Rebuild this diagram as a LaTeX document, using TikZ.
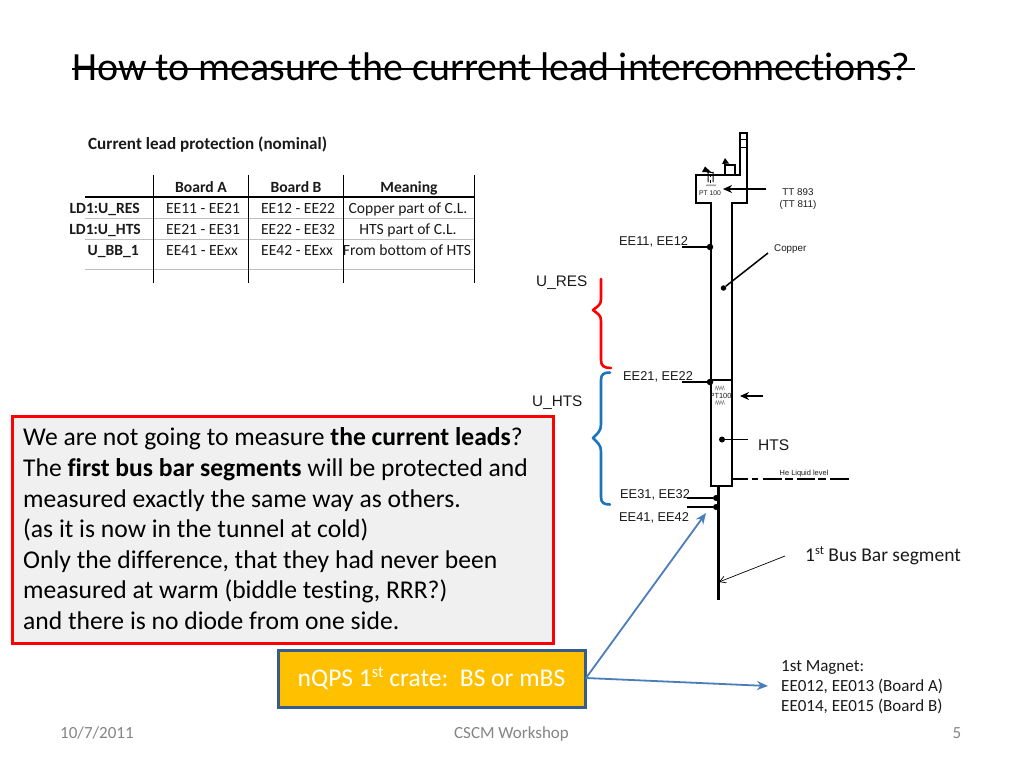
\documentclass[tikz,border=0pt]{standalone}
\usepackage{fontspec}
\setmainfont[RawFeature={-liga;-clig}]{Carlito}
\newfontfamily\arialf{Liberation Sans}
\usetikzlibrary{arrows.meta}
\definecolor{ftgray}{HTML}{858585}
\definecolor{txt}{HTML}{1A1A1A}
\definecolor{bluearrow}{HTML}{4A7EBB}
\definecolor{boxedge}{HTML}{385D8A}
\definecolor{bluebrace}{HTML}{1B75BC}
\definecolor{boxorange}{HTML}{FFC000}
\newcommand{\supst}[2]{\raisebox{#1}{\fontsize{#2}{#2}\selectfont st}}
\tikzset{
  x=1pt,y=-1pt,
  lbl/.style={inner sep=0pt,text=txt,font=\fontsize{15.6}{18}\selectfont,anchor=base},
  lblb/.style={lbl,font=\fontsize{15.6}{18}\selectfont\bfseries},
  lblr/.style={lblb,anchor=base east},
  ar/.style={inner sep=0pt,text=txt,anchor=base west,font=\arialf\fontsize{12.8}{14}\selectfont},
  tiny/.style={inner sep=0pt,text=txt,anchor=base,font=\arialf\fontsize{7.4}{8}\selectfont},
  grid/.style={draw=black,line width=1.1pt},
  gridg/.style={draw=black!25,line width=0.8pt},
  struct/.style={draw=black,line width=2pt},
  stub/.style={draw=black,line width=1.5pt},
  dot/.style={circle,fill=black,inner sep=0pt,minimum size=6.5pt},
  bluearr/.style={draw=bluearrow,line width=1.8pt,-{Stealth[length=11pt,width=9pt]}},
  blackarr/.style={draw=black,line width=1.4pt,-{Stealth[length=9pt,width=8pt]}},
  boxline/.style={inner sep=0pt,anchor=base west,text=black,font=\fontsize{25.6}{30}\selectfont},
  foot/.style={inner sep=0pt,anchor=base,text=ftgray,font=\fontsize{17}{20}\selectfont},
  wiggle/.style={draw=black!55,line width=0.4pt},
  mag/.style={inner sep=0pt,anchor=base west,text=txt,font=\fontsize{17}{20}\selectfont},
}
\begin{document}
\begin{tikzpicture}
\useasboundingbox (0,0) rectangle (1024,768);
\fill[white] (0,0) rectangle (1024,768);
% title
\node[inner sep=0pt,anchor=base west,text=black,font=\fontsize{40}{44}\selectfont] (title) at (72,80) {How to measure the current lead interconnections?};
\coordinate (stA) at (72,69); \coordinate (stB) at (915,69);
\draw[black,line width=1.8pt] (stA) -- (stB);
% table
\node[lblb,anchor=base west,font=\fontsize{17.1}{20}\selectfont\bfseries] (tabt) at (88,149.5) {Current lead protection (nominal)};
\foreach \n/\y in {a/197,b/218,c/239,d/269}{\coordinate (hl\n) at (85,\y); \coordinate (hr\n) at (474,\y);}
\draw[gridg] (hlb)--(hrb) (hlc)--(hrc) (hld)--(hrd);
\draw[grid] (hla)--(hra);
\foreach \n/\x in {a/153.5,b/248.5,c/343.5,d/474.5}{\coordinate (vt\n) at (\x,175); \coordinate (vb\n) at (\x,283);\draw[grid] (vt\n)--(vb\n);}
\node[lblb] (h1) at (201,192) {Board A};
\node[lblb] (h2) at (296,192) {Board B};
\node[lblb] (h3) at (409,192) {Meaning};
\node[lblr] (r1) at (140,213) {LD1:U\_RES};
\node[lblr] (r2) at (141,234) {LD1:U\_HTS};
\node[lblr] (r3) at (139,255) {U\_BB\_1};
\node[lbl] (c11) at (203,213) {EE11 - EE21};
\node[lbl] (c12) at (298,213) {EE12 - EE22};
\node[lbl] (c13) at (408,213) {Copper part of C.L.};
\node[lbl] (c21) at (203,234) {EE21 - EE31};
\node[lbl] (c22) at (298,234) {EE22 - EE32};
\node[lbl] (c23) at (408,234) {HTS part of C.L.};
\node[lbl] (c31) at (202,255) {EE41 - EExx};
\node[lbl] (c32) at (297,255) {EE42 - EExx};
\node[lbl] (c33) at (407,255) {From bottom of HTS};
% structure
\coordinate (s1) at (710.5,486);\coordinate (s2) at (710.5,203);\coordinate (s3) at (696,203);\coordinate (s4) at (696,174.5);
\coordinate (s5) at (739.5,174.5);\coordinate (s6) at (739.5,133);\coordinate (s7) at (746.5,133);\coordinate (s8) at (746.5,203);
\coordinate (s9) at (731.5,203);\coordinate (s10) at (731.5,486);
\draw[struct,line join=miter] (s1)--(s2)--(s3)--(s4)--(s5)--(s6)--(s7)--(s8)--(s9)--(s10)--cycle;
\coordinate (k1) at (739.5,139);\coordinate (k2) at (746.5,139);\coordinate (k3) at (739.5,147);\coordinate (k4) at (746.5,147);
\draw[black,line width=0.9pt] (k1)--(k2) (k3)--(k4);
\draw[struct] (724.5,174)--(724.5,164.5)--(735,164.5)--(735,174);
\fill[black] (722,164)--(725,158)--(729,163.5)--cycle;
\fill[black] (702,172)--(705,166.5)--(711,172)--cycle;
\draw[black,line width=1pt] (707,172)--(713.5,172.5) (708,172)--(708,182) (713,172)--(713,182);
\draw[black,line width=0.6pt,dashed] (710.5,174)--(710.5,183);
\draw[wiggle] (706,186)--(707,184.5)--(708,186)--(709,184.5)--(710,186)--(711,184.5)--(712,186)--(713,184.5)--(714,186)--(715,184.5)--(716,186);
\node[tiny,font=\arialf\fontsize{6.8}{8}\selectfont] (pt1) at (710,195.5) {PT 100};
\node[inner sep=0pt] (tt) at (767,189) {};
\coordinate (ttend) at (723,189);
\draw[blackarr] (tt) -- (ttend);
\node[inner sep=0pt,text=txt,anchor=base,font=\arialf\fontsize{9.8}{11}\selectfont] (tt1) at (798,195) {TT 893};
\node[inner sep=0pt,text=txt,anchor=base,font=\arialf\fontsize{9.8}{11}\selectfont] (tt2) at (798,207) {(TT 811)};
% stubs and dots
\node[dot] (d1) at (710,247) {}; \coordinate (d1s) at (682,247);
\draw[stub] (d1s) -- (d1);
\node[ar,anchor=base west] (e1) at (619,245) {EE11, EE12};
\node[dot,minimum size=5.5pt] (cu) at (723.5,288) {}; \coordinate (cue) at (768,253);
\draw[stub] (cu) -- (cue);
\node[inner sep=0pt,text=txt,anchor=base west,font=\arialf\fontsize{9.8}{11}\selectfont] (cul) at (774,251) {Copper};
\node[dot] (d2) at (710,382) {}; \coordinate (d2s) at (682,382);
\draw[stub] (d2s) -- (d2);
\coordinate (b1) at (710,380);\coordinate (b2) at (731.5,380);
\draw[black,line width=1.2pt] (b1)--(b2);
\node[ar] (e2) at (623,380) {EE21, EE22};
\foreach \yy in {388,402.5}{
\draw[wiggle] (715,\yy+2)--(716.2,\yy-2)--(717.4,\yy+2)--(718.6,\yy-2)--(719.8,\yy+2)--(721,\yy-2)--(722.2,\yy+2)--(723.4,\yy-2)--(724.6,\yy+2);}
\node[tiny] (pt2) at (720.5,398.5) {PT100};
\node[inner sep=0pt] (pa) at (764,396) {};
\coordinate (pae) at (740,396);
\draw[blackarr] (pa) -- (pae);
\node[dot,minimum size=6pt] (ht) at (722,439.5) {}; \coordinate (hte) at (748,439.5);
\draw[stub] (ht) -- (hte);
\node[inner sep=0pt,text=txt,anchor=base west,font=\arialf\fontsize{15.5}{18}\selectfont] (htl) at (758,450.5) {HTS};
\node[inner sep=0pt,text=txt,anchor=base,font=\arialf\fontsize{7.4}{8}\selectfont] (he) at (804,475) {He Liquid level};
\foreach \xa/\xb in {732/748,752/758,763/782,785/793,797/815,818/826,830/849}{\coordinate (ha) at (\xa,478.5);\coordinate (hb) at (\xb,478.5);\draw[black,line width=2pt] (ha)--(hb);}
\coordinate (bba) at (718.5,485);\coordinate (bbb) at (718.5,600);
\draw[black,line width=2.6pt] (bba)--(bbb);
\node[dot,minimum size=6pt] (d3) at (716,498) {}; \coordinate (d3s) at (687,498);
\draw[stub] (d3s) -- (d3);
\node[dot,minimum size=6pt] (d4) at (716,507) {}; \coordinate (d4s) at (687,507);
\draw[stub] (d4s) -- (d4);
\node[ar] (e3) at (620,498) {EE31, EE32};
\node[ar] (e4) at (619,521) {EE41, EE42};
% braces
\draw[red,line width=2.6pt,line cap=round,line join=round]
  (601,279) -- (601,299) .. controls (601,305) and (598,306) .. (593,310) .. controls (598,314) and (601,315) .. (601,321) -- (601,360) .. controls (601,366) and (604,368) .. (611,368);
\draw[bluebrace,line width=2.6pt,line cap=round,line join=round]
  (610,372.5) .. controls (604,372.5) and (601,374) .. (601,380) -- (601,424) .. controls (601,431) and (598,433) .. (593,438) .. controls (598,443) and (601,445) .. (601,452) -- (601,497) .. controls (601,503) and (604,504.5) .. (610,504.5);
\node[inner sep=0pt,text=txt,anchor=base west,font=\arialf\fontsize{15.3}{18}\selectfont] (ures) at (536,286) {U\_RES};
\node[inner sep=0pt,text=txt,anchor=base west,font=\arialf\fontsize{15.3}{18}\selectfont] (uhts) at (532,406) {U\_HTS};
% bus bar label
\node[mag,font=\fontsize{19.5}{22}\selectfont] (bus) at (805,561) {1\supst{6.5pt}{12.5} Bus Bar segment};
\coordinate (busa) at (785,556);\coordinate (buse) at (719,582);
\draw[black,line width=0.7pt,-{Straight Barb[length=6pt,width=7pt]}] (busa) -- (buse);
% red box
\node[draw=red,line width=3pt,fill=black!6,minimum width=541pt,minimum height=227pt,inner sep=0pt,outer sep=0pt,anchor=north west] (rb) at (12,416) {};
\node[boxline] (l1) at (23,445.5) {We are not going to measure \textbf{the current leads}?};
\node[boxline] (l2) at (23,476.5) {The \textbf{first bus bar segments} will be protected and};
\node[boxline] (l3) at (23,507.5) {measured exactly the same way as others.};
\node[boxline] (l4) at (23,537.5) {(as it is now in the tunnel at cold)};
\node[boxline] (l5) at (23,568.5) {Only the difference, that they had never been};
\node[boxline] (l6) at (23,598.5) {measured at warm (biddle testing, RRR?)};
\node[boxline] (l7) at (23,629.5) {and there is no diode from one side.};
% orange box
\node[draw=boxedge,line width=3pt,fill=boxorange,minimum width=307pt,minimum height=57pt,inner sep=0pt,outer sep=0pt,anchor=north west,text=white,font=\fontsize{25.5}{30}\selectfont] (ob) at (278,650) {nQPS 1\supst{8.5pt}{16.5} crate:\ \ BS or mBS};
\coordinate (t1) at (706,513);\coordinate (t2) at (768,686);
\coordinate (obr) at (586,678);
\draw[bluearr] (obr) -- (t1);
\draw[bluearr] (obr) -- (t2);
\node[mag] (m1) at (781,671.5) {1st Magnet:};
\node[mag] (m2) at (781,691.5) {EE012, EE013 (Board A)};
\node[mag] (m3) at (781,711.5) {EE014, EE015 (Board B)};
% footer
\node[foot,anchor=base west] (f1) at (60,738) {10/7/2011};
\node[foot] (f2) at (511.5,738) {CSCM Workshop};
\node[foot] (f3) at (957,738) {5};
\end{tikzpicture}
\end{document}
